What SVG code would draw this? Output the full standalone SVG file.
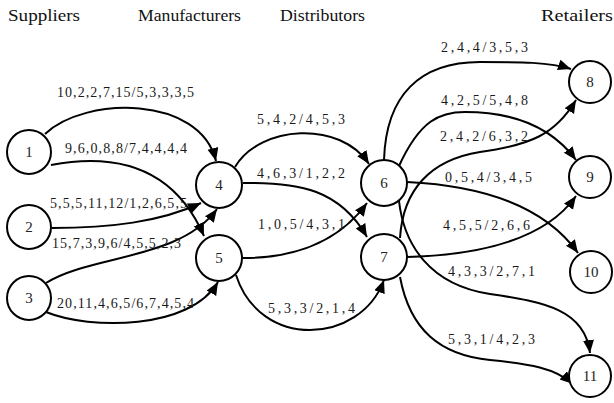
<svg xmlns="http://www.w3.org/2000/svg" width="614" height="403" viewBox="0 0 614 403">
<style>
.hdr{font-family:"Liberation Serif","DejaVu Serif",serif;font-size:17px;fill:#111}
.lbl{font-family:"Liberation Serif","DejaVu Serif",serif;font-size:14px;fill:#1a1a1a}
.num{font-family:"Liberation Serif","DejaVu Serif",serif;font-size:15px;fill:#222;text-anchor:middle}
.node circle{fill:#fff;stroke:#000;stroke-width:2}
.edge{fill:none;stroke:#000;stroke-width:2;marker-end:url(#arr)}
</style>
<defs>
<marker id="arr" markerUnits="userSpaceOnUse" markerWidth="14" markerHeight="12" refX="13" refY="5.5" orient="auto">
<path d="M0,0 L13,5.5 L0,11 z" fill="#000"/>
</marker>
</defs>
<rect width="614" height="403" fill="#fff"/>
<g id="headers">
<text class="hdr" x="8" y="21" textLength="72" lengthAdjust="spacingAndGlyphs">Suppliers</text>
<text class="hdr" x="138" y="21" textLength="103" lengthAdjust="spacingAndGlyphs">Manufacturers</text>
<text class="hdr" x="280" y="21" textLength="85" lengthAdjust="spacingAndGlyphs">Distributors</text>
<text class="hdr" x="541" y="21" textLength="72" lengthAdjust="spacingAndGlyphs">Retailers</text>
</g>
<g id="connectors">
<path class="edge" d="M45,134 C85,96 200,95 216,161"/>
<path class="edge" d="M51,165 C120,152 175,170 204,236"/>
<path class="edge" d="M52,228 C110,228 160,222 201,203"/>
<path class="edge" d="M46,283 C90,255 180,260 217,209"/>
<path class="edge" d="M46,312 C90,330 190,330 218,282"/>
<path class="edge" d="M235,167 C260,125 340,120 369,164"/>
<path class="edge" d="M243,183 C300,182 340,190 367,237"/>
<path class="edge" d="M243,258 C300,258 340,240 367,203"/>
<path class="edge" d="M236,275 C260,350 360,345 384,280"/>
<path class="edge" d="M384,160 C386,95 420,62 480,62 C520,62 550,62 571,69"/>
<path class="edge" d="M399,166 C420,120 440,112 465,112 C510,112 550,125 576,160"/>
<path class="edge" d="M400,238 C403,190 430,160 480,152 C530,145 555,135 576,100"/>
<path class="edge" d="M407,182 C470,185 540,200 578,253"/>
<path class="edge" d="M407,257 C480,255 545,240 576,196"/>
<path class="edge" d="M399,201 C404,245 430,285 490,294 C545,302 585,310 590,353"/>
<path class="edge" d="M400,277 C410,330 440,355 490,360 C530,364 555,368 573,384"/>
</g>
<g id="labels">
<text class="lbl" x="57" y="97" textLength="137">10,2,2,7,15/5,3,3,3,5</text>
<text class="lbl" x="65" y="153" textLength="122">9,6,0,8,8/7,4,4,4,4</text>
<text class="lbl" x="50" y="208" textLength="137">5,5,5,11,12/1,2,6,5,5</text>
<text class="lbl" x="52" y="248" textLength="129">15,7,3,9,6/4,5,5,2,3</text>
<text class="lbl" x="57" y="308" textLength="137">20,11,4,6,5/6,7,4,5,4</text>
<text class="lbl" x="257" y="124" textLength="88">5,4,2/4,5,3</text>
<text class="lbl" x="257" y="178" textLength="88">4,6,3/1,2,2</text>
<text class="lbl" x="258" y="229" textLength="87">1,0,5/4,3,1</text>
<text class="lbl" x="268" y="313" textLength="87">5,3,3/2,1,4</text>
<text class="lbl" x="441" y="52" textLength="87">2,4,4/3,5,3</text>
<text class="lbl" x="441" y="105" textLength="87">4,2,5/5,4,8</text>
<text class="lbl" x="440" y="141" textLength="88">2,4,2/6,3,2</text>
<text class="lbl" x="445" y="182" textLength="87">0,5,4/3,4,5</text>
<text class="lbl" x="443" y="230" textLength="87">4,5,5/2,6,6</text>
<text class="lbl" x="448" y="276" textLength="87">4,3,3/2,7,1</text>
<text class="lbl" x="448" y="344" textLength="87">5,3,1/4,2,3</text>
</g>
<g id="n1" class="node"><circle cx="29" cy="152" r="22"/><text class="num" x="29" y="157">1</text></g>
<g id="n2" class="node"><circle cx="29" cy="227" r="22"/><text class="num" x="29" y="232">2</text></g>
<g id="n3" class="node"><circle cx="29" cy="298" r="22"/><text class="num" x="29" y="303">3</text></g>
<g id="n4" class="node"><circle cx="219" cy="185" r="23"/><text class="num" x="219" y="190">4</text></g>
<g id="n5" class="node"><circle cx="219" cy="258" r="23"/><text class="num" x="219" y="263">5</text></g>
<g id="n6" class="node"><circle cx="384" cy="183" r="23"/><text class="num" x="384" y="188">6</text></g>
<g id="n7" class="node"><circle cx="384" cy="257" r="23"/><text class="num" x="384" y="262">7</text></g>
<g id="n8" class="node"><circle cx="590" cy="82" r="21"/><text class="num" x="590" y="87">8</text></g>
<g id="n9" class="node"><circle cx="590" cy="177" r="21"/><text class="num" x="590" y="182">9</text></g>
<g id="n10" class="node"><circle cx="591" cy="272" r="21"/><text class="num" x="591" y="277">10</text></g>
<g id="n11" class="node"><circle cx="590" cy="376" r="21"/><text class="num" x="590" y="381">11</text></g>
</svg>
